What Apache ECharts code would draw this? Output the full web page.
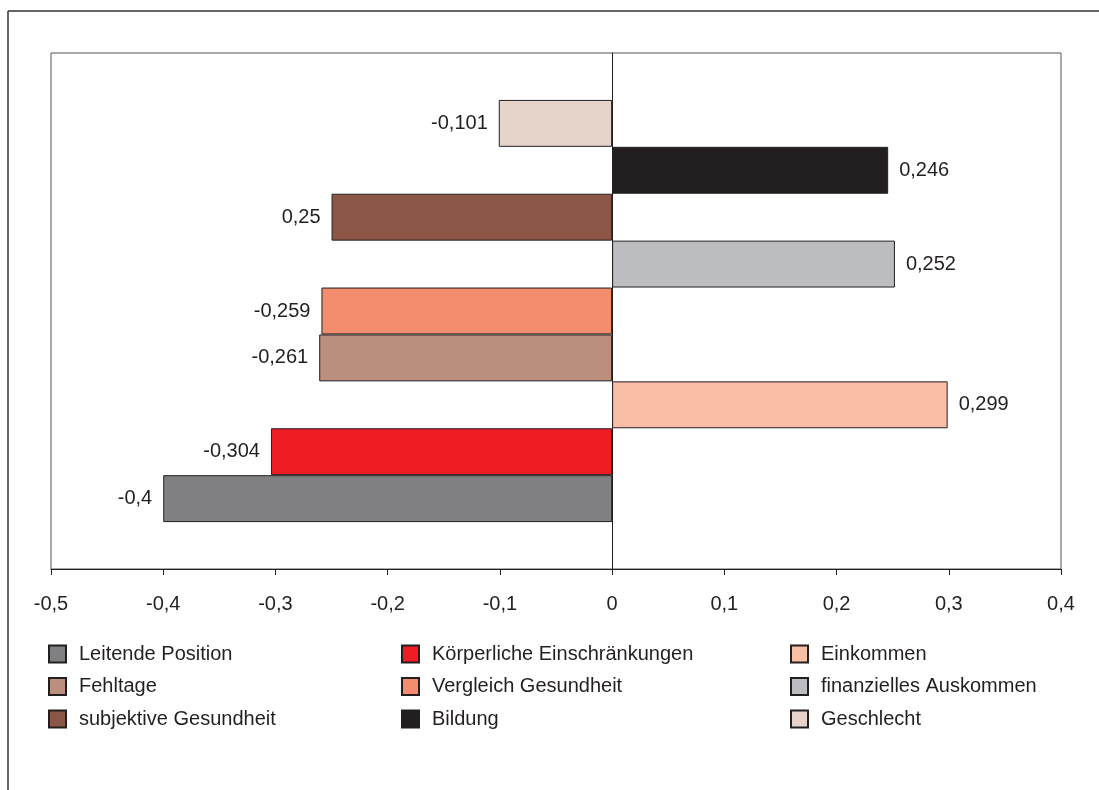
<!DOCTYPE html>
<html>
<head>
<meta charset="utf-8">
<script src="https://cdn.jsdelivr.net/npm/echarts@6/dist/echarts.min.js"></script>
<style>
    html, body { margin: 0; padding: 0; background: #fff; }
    #chart { width: 1099px; height: 790px; }
</style>
</head>
<body>
<div id="chart"></div>
<script>
// bars from bottom to top (first and last slot stay empty)
var names = ['Leitende Position', 'Körperliche Einschränkungen', 'Einkommen',
    'Fehltage', 'Vergleich Gesundheit', 'finanzielles Auskommen',
    'subjektive Gesundheit', 'Bildung', 'Geschlecht'];
var values = [-0.4, -0.304, 0.299, -0.261, -0.259, 0.252, -0.25, 0.246, -0.101];
// labels as printed in the original (0,25 is printed without minus)
var labelTexts = ['-0,4', '-0,304', '0,299', '-0,261', '-0,259', '0,252', '0,25', '0,246', '-0,101'];
var colors = ['#808083', '#ee1c25', '#f9bfa6', '#bb8e7d', '#f48c6e', '#bcbdc0',
    '#8c5646', '#231f20', '#e6d4cb'];
var xTicks = [-0.5, -0.4, -0.3, -0.2, -0.1, 0, 0.1, 0.2, 0.3, 0.4];

var legendCols = [
    ['Leitende Position', 'Fehltage', 'subjektive Gesundheit'],
    ['Körperliche Einschränkungen', 'Vergleich Gesundheit', 'Bildung'],
    ['Einkommen', 'finanzielles Auskommen', 'Geschlecht']
];

var font = '"Liberation Sans", Arial, sans-serif';
var ink = '#231f20';

var slots = ['s0'].concat(names).concat(['s10']);

var series = names.map(function (n, i) {
    var d = slots.map(function () { return '-'; });
    d[i + 1] = values[i];
    return {
        name: n,
        type: 'bar',
        stack: 'all',
        barWidth: '100%',
        data: d,
        itemStyle: { color: colors[i], borderColor: ink, borderWidth: 1 },
        label: {
            show: true,
            position: values[i] < 0 ? 'left' : 'right',
            distance: 11,
            fontFamily: font,
            fontSize: 20,
            color: ink,
            formatter: function () { return labelTexts[i]; }
        }
    };
});

var legendLefts = [48, 401, 790];
var legends = legendCols.map(function (col, k) {
    return {
        orient: 'vertical',
        left: legendLefts[k],
        top: 644,
        padding: 0,
        itemWidth: 17,
        itemHeight: 17,
        itemGap: 12.5,
        selectedMode: false,
        icon: 'rect',
        data: col,
        textStyle: {
            fontFamily: font,
            fontSize: 20,
            color: ink,
            lineHeight: 17,
            padding: [0, 0, 0, 8]
        }
    };
});

var chart = echarts.init(document.getElementById('chart'));
chart.setOption({
    animation: false,
    backgroundColor: '#fff',
    legend: legends,
    grid: {
        left: 51, right: 38, top: 53, bottom: 221,
        show: true, borderColor: '#555', borderWidth: 1, backgroundColor: 'transparent'
    },
    xAxis: {
        type: 'value',
        min: xTicks[0],
        max: xTicks[xTicks.length - 1],
        interval: 0.1,
        splitLine: { show: false },
        axisLine: { show: true, lineStyle: { color: ink, width: 1 } },
        axisTick: { show: true, length: 6, lineStyle: { color: ink } },
        axisLabel: {
            margin: 25,
            fontFamily: font,
            fontSize: 20,
            color: ink,
            formatter: function (v) {
                return String(Math.round(v * 10) / 10).replace('.', ',');
            }
        }
    },
    yAxis: {
        type: 'category',
        data: slots,
        axisLine: { show: true, onZero: true, lineStyle: { color: ink, width: 1 } },
        axisTick: { show: false },
        axisLabel: { show: false },
        splitLine: { show: false }
    },
    graphic: [
        { type: 'line', shape: { x1: 8, y1: 11, x2: 1099, y2: 11 }, style: { stroke: '#333', lineWidth: 1.5 } },
        { type: 'line', shape: { x1: 8, y1: 11, x2: 8, y2: 790 }, style: { stroke: '#333', lineWidth: 1.5 } }
    ],
    series: series
});
</script>
</body>
</html>
